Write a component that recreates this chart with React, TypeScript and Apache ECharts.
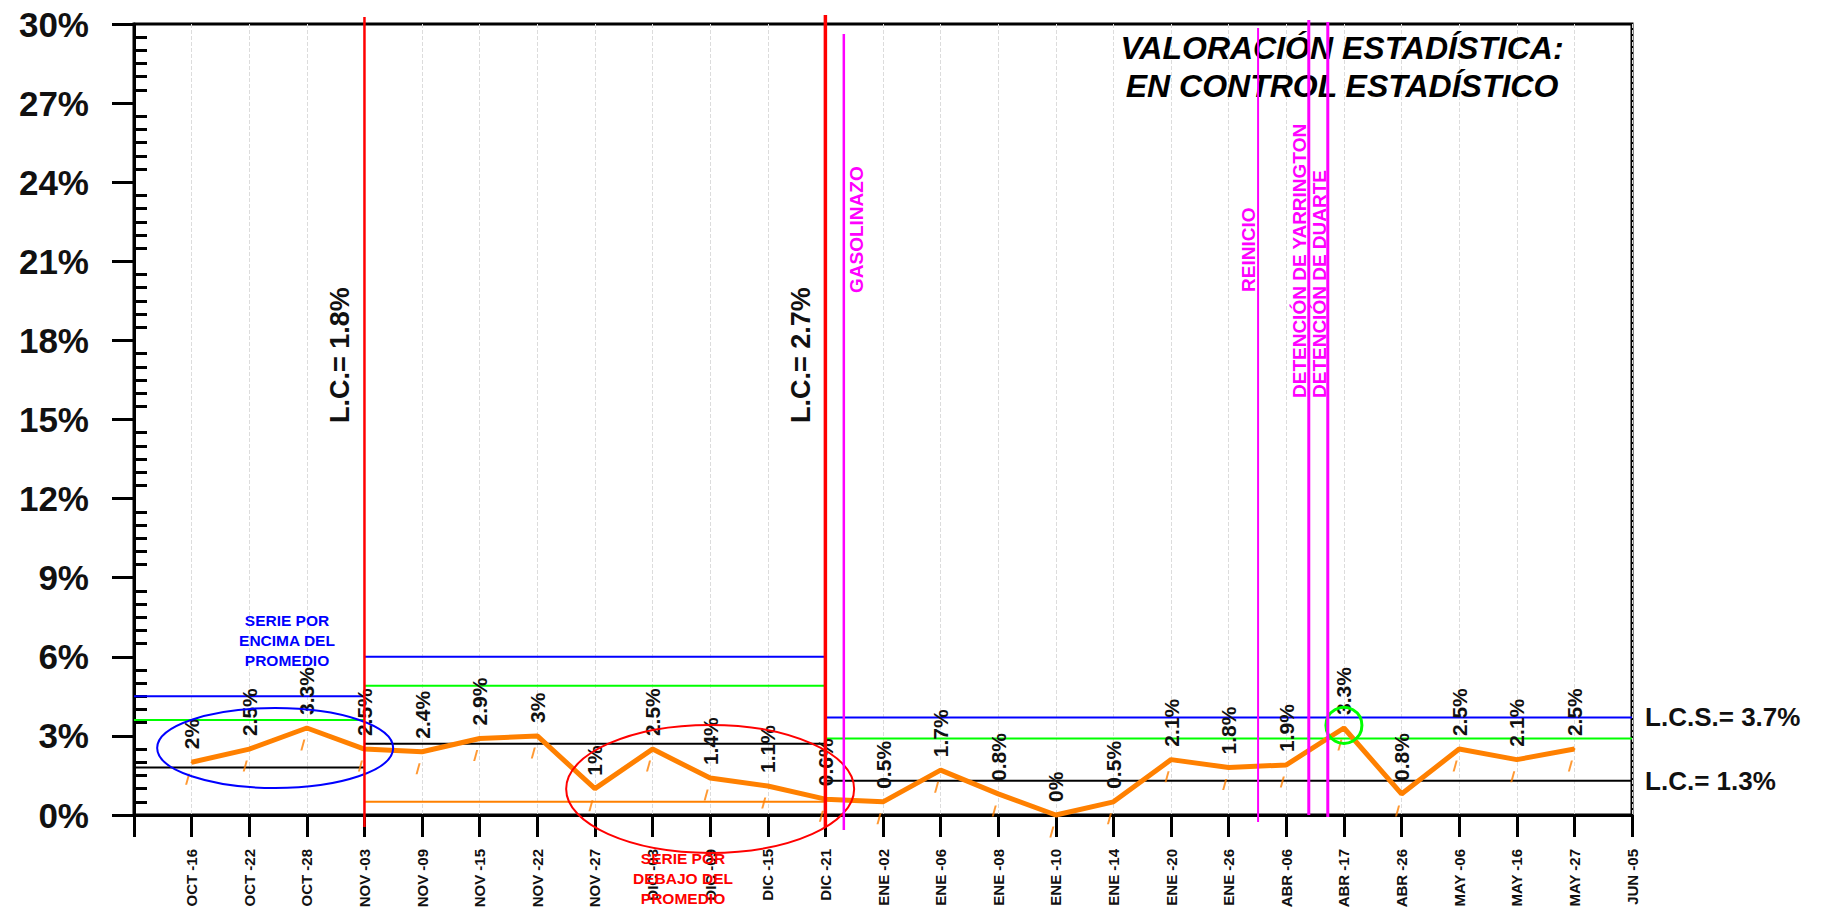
import React, { useEffect, useRef } from 'react';
import * as echarts from 'echarts';

const FONT = '"Liberation Sans", Arial, sans-serif';

// ---- data ----
const CATEGORIES = ['', 'OCT -16', 'OCT -22', 'OCT -28', 'NOV -03', 'NOV -09', 'NOV -15', 'NOV -22', 'NOV -27',
  'DIC -03', 'DIC -09', 'DIC -15', 'DIC -21', 'ENE -02', 'ENE -06', 'ENE -08', 'ENE -10', 'ENE -14', 'ENE -20',
  'ENE -26', 'ABR -06', 'ABR -17', 'ABR -26', 'MAY -06', 'MAY -16', 'MAY -27', 'JUN -05'];
const VALUES: (number | null)[] = [null, 2, 2.5, 3.3, 2.5, 2.4, 2.9, 3, 1, 2.5, 1.4, 1.1, 0.6, 0.5, 1.7, 0.8, 0,
  0.5, 2.1, 1.8, 1.9, 3.3, 0.8, 2.5, 2.1, 2.5, null];

const SEGMENT_START = [0, 4, 12];
const SEGMENT_END = [4, 12, 26];
const LCS = [4.5, 6.0, 3.7];
const UPPER_2S = [3.6, 4.9, 2.9];
const LC = [1.8, 2.7, 1.3];
const LOWER_2S: (number | null)[] = [null, 0.5, null];

const LIMIT_BREAKS = [4, 12];
const EVENT_NAMES = ['GASOLINAZO', 'REINICIO', 'DETENCIÓN DE YARRINGTON', 'DETENCIÓN DE DUARTE'];
const EVENT_AT = [12.32, 19.51, 20.39, 20.72];

const TITLE = 'VALORACIÓN ESTADÍSTICA:\nEN CONTROL ESTADÍSTICO';
const NOTE_ABOVE = 'SERIE POR\nENCIMA DEL\nPROMEDIO';
const NOTE_BELOW = 'SERIE POR\nDEBAJO DEL\nPROMEDIO';
const HIGHLIGHT_ABOVE = [2.45, 2.54];
const HIGHLIGHT_BELOW = [10.0, 0.99];
const HIGHLIGHT_POINT = [21, 3.4];

export default function App() {
  const ref = useRef<HTMLDivElement>(null);

  useEffect(() => {
    if (!ref.current) return;
    const chart = echarts.init(ref.current, null, { renderer: 'svg' });

    const points = VALUES.map((v, i) => (v == null ? null : [i, v])).filter(Boolean) as number[][];

    const levels = [
      { vals: LCS, color: '#0000FF', label: 'L.C.S.' },
      { vals: UPPER_2S, color: '#00FF00', label: '' },
      { vals: LC, color: '#000000', label: 'L.C.' },
      { vals: LOWER_2S, color: '#FF8000', label: '' },
    ];
    const levelSeries: any[] = [];
    levels.forEach((l) => {
      l.vals.forEach((v, i) => {
        if (v == null) return;
        const last = i === SEGMENT_START.length - 1;
        levelSeries.push({
          type: 'line',
          silent: true,
          clip: false,
          symbol: 'circle',
          symbolSize: 0.1,
          z: 2,
          lineStyle: { color: l.color, width: 2 },
          itemStyle: { color: l.color },
          data: [
            [SEGMENT_START[i], v],
            {
              value: [SEGMENT_END[i], v],
              label: last && l.label
                ? {
                    show: true, position: 'right', distance: 13,
                    formatter: `${l.label}= ${v}%`,
                    fontSize: 26, fontWeight: 'bold', color: '#111', fontFamily: FONT,
                  }
                : { show: false },
            },
          ],
        });
      });
    });

    chart.setOption({
      animation: false,
      backgroundColor: '#fff',
      grid: { left: 134, right: 190, top: 24, bottom: 97, show: true, borderColor: '#000', borderWidth: 3, containLabel: false },
      xAxis: {
        type: 'value', min: 0, max: 26, interval: 1,
        axisLine: { show: true, lineStyle: { color: '#000', width: 3 } },
        axisTick: { show: true, length: 22, lineStyle: { color: '#000', width: 3 } },
        axisLabel: {
          rotate: 90, margin: 34, fontSize: 15, fontWeight: 'bold', color: '#111', fontFamily: FONT,
          showMinLabel: true, showMaxLabel: true,
          formatter: (v: number) => CATEGORIES[Math.round(v)] || '',
        },
        splitLine: { show: true, lineStyle: { color: '#dcdcdc', type: 'dashed', width: 1 } },
      },
      yAxis: [
        {
          type: 'value', min: 0, max: 30, interval: 3, position: 'left',
          axisLine: { show: true, lineStyle: { color: '#000', width: 3 } },
          axisTick: { show: true, length: 22, lineStyle: { color: '#000', width: 3 } },
          axisLabel: { formatter: '{value}%', fontSize: 35, fontWeight: 'bold', color: '#111', margin: 45, fontFamily: FONT },
          splitLine: { show: false },
        },
        {
          type: 'value', min: 0, max: 30, interval: 3, position: 'left',
          axisLine: { show: false },
          axisTick: { show: false, inside: true },
          axisLabel: { show: false },
          minorTick: { show: true, splitNumber: 6, length: 13, lineStyle: { color: '#000', width: 3 } },
          splitLine: { show: false },
          minorSplitLine: { show: false },
        },
      ],
      series: [
        ...levelSeries,
        {
          type: 'scatter',
          silent: true,
          clip: false,
          data: points,
          symbol: 'path://M3,0L5,0L2,11L0,11Z',
          symbolSize: [5, 11],
          symbolOffset: [-4, 17],
          itemStyle: { color: '#FF8000' },
          z: 3,
        },
        {
          type: 'line',
          clip: false,
          data: points,
          symbol: 'circle',
          symbolSize: 2,
          lineStyle: { color: '#FF8000', width: 5 },
          itemStyle: { color: '#FF8000' },
          label: {
            show: true, position: 'top', distance: 12, rotate: 90, align: 'left', verticalAlign: 'middle',
            formatter: (p: any) => `${p.value[1]}%`,
            fontSize: 21, fontWeight: 'bold', color: '#111', fontFamily: FONT,
          },
          z: 5,
        },
      ],
    });

    const toPx = (x: number, y: number) => chart.convertToPixel({ xAxisIndex: 0, yAxisIndex: 0 }, [x, y]) as number[];
    const top = toPx(0, 30)[1];
    const bottom = toPx(0, 0)[1];

    const graphic: any[] = [];
    graphic.push({
      type: 'text', x: 1342, y: 29, z: 8,
      style: {
        text: TITLE, fill: '#000', fontSize: 32, fontWeight: 'bold', fontStyle: 'italic', fontFamily: FONT,
        lineHeight: 38, align: 'center', verticalAlign: 'top',
      },
    });

    // red limit-change lines
    const redExt = [[-7, 12, 2.5], [-9, 12, 3.5]];
    LIMIT_BREAKS.forEach((b, i) => {
      const x = toPx(b, 0)[0];
      graphic.push({
        type: 'line', z: 10, silent: true,
        shape: { x1: x, y1: top + redExt[i][0], x2: x, y2: bottom + redExt[i][1] },
        style: { stroke: '#FF0000', lineWidth: redExt[i][2] },
      });
      graphic.push({
        type: 'text', z: 10, x: x - 24, y: 423, rotation: Math.PI / 2,
        style: {
          text: `L.C.= ${LC[i]}%`, fill: '#111', fontSize: 27, fontWeight: 'bold', fontFamily: FONT,
          align: 'left', verticalAlign: 'middle',
        },
      });
    });

    // events
    const evExt = [[10, 15, 2.5, 13, 293], [4, 7, 2, -10, 292], [-4, 0, 3, -9, 398], [-2, 2, 3, -8, 398]];
    EVENT_NAMES.forEach((name, i) => {
      const x = toPx(EVENT_AT[i], 0)[0];
      const e = evExt[i];
      graphic.push({
        type: 'line', z: 10, silent: true,
        shape: { x1: x, y1: top + e[0], x2: x, y2: bottom + e[1] },
        style: { stroke: '#FF00FF', lineWidth: e[2] },
      });
      graphic.push({
        type: 'text', z: 10, x: x + e[3], y: e[4], rotation: Math.PI / 2,
        style: {
          text: name, fill: '#FF00FF', fontSize: 19, fontWeight: 'bold', fontFamily: FONT,
          align: 'left', verticalAlign: 'middle',
        },
      });
    });

    // highlights
    const ca = toPx(HIGHLIGHT_ABOVE[0], HIGHLIGHT_ABOVE[1]);
    graphic.push({
      type: 'ellipse', z: 9, silent: true,
      shape: { cx: ca[0], cy: ca[1], rx: 118, ry: 40 },
      style: { fill: 'none', stroke: '#0000FF', lineWidth: 2 },
    });
    const cb = toPx(HIGHLIGHT_BELOW[0], HIGHLIGHT_BELOW[1]);
    graphic.push({
      type: 'ellipse', z: 9, silent: true,
      shape: { cx: cb[0], cy: cb[1], rx: 144, ry: 64 },
      style: { fill: 'none', stroke: '#FF0000', lineWidth: 2 },
    });
    const cp = toPx(HIGHLIGHT_POINT[0], HIGHLIGHT_POINT[1]);
    graphic.push({
      type: 'circle', z: 9, silent: true,
      shape: { cx: cp[0], cy: cp[1], r: 18 },
      style: { fill: 'none', stroke: '#00FF00', lineWidth: 3 },
    });
    graphic.push({
      type: 'text', z: 9, x: 287, y: 640,
      style: {
        text: NOTE_ABOVE, fill: '#0000FF', fontSize: 15.5, fontWeight: 'bold', fontFamily: FONT,
        lineHeight: 20, align: 'center', verticalAlign: 'middle',
      },
    });
    graphic.push({
      type: 'text', z: 9, x: 683, y: 878,
      style: {
        text: NOTE_BELOW, fill: '#FF0000', fontSize: 15.5, fontWeight: 'bold', fontFamily: FONT,
        lineHeight: 20, align: 'center', verticalAlign: 'middle',
      },
    });

    chart.setOption({ graphic });

    return () => chart.dispose();
  }, []);

  return (
    <div
      ref={ref}
      style={{ position: 'fixed', left: 0, top: 0, width: 1822, height: 912, background: '#fff' }}
    />
  );
}
